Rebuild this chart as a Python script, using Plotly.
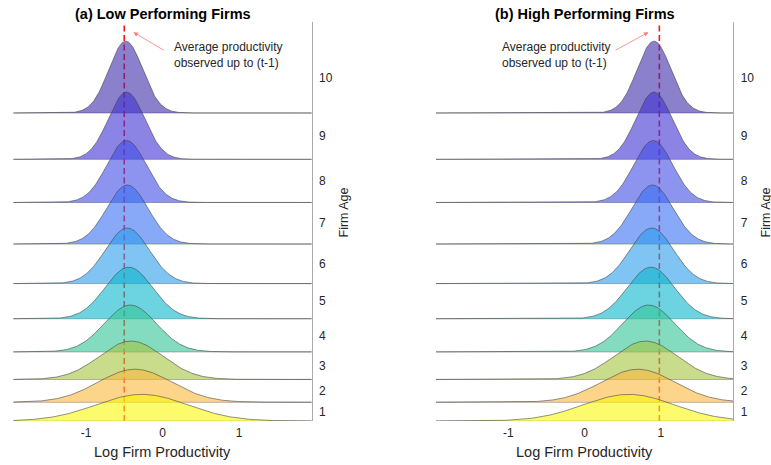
import numpy as np
import plotly.graph_objects as go

# ---- data -------------------------------------------------------------
ages = [1, 2, 3, 4, 5, 6, 7, 8, 9, 10]
age_labels = ["1", "2", "3", "4", "5", "6", "7", "8", "9", "10"]

# normal-density parameters of log productivity by firm age
low_means = [-0.27, -0.36, -0.41, -0.42, -0.44, -0.46, -0.46, -0.47, -0.47, -0.48]
high_means = [0.58, 0.70, 0.80, 0.84, 0.87, 0.88, 0.89, 0.90, 0.91, 0.91]
sds = [0.598, 0.483, 0.415, 0.340, 0.309, 0.287, 0.270, 0.257, 0.237, 0.222]

# vertical offset of each ridge (density units)
baselines = [0.0, 0.47, 1.04, 1.73, 2.56, 3.44, 4.43, 5.47, 6.55, 7.71]

# average productivity observed up to (t-1)
low_avg = -0.50
high_avg = 0.98

x_ticks = [-1, 0, 1]
x_tick_labels = ["-1", "0", "1"]

fill_colors = [
    "rgba(250,248,10,0.6)",
    "rgba(252,185,60,0.6)",
    "rgba(163,197,63,0.6)",
    "rgba(50,197,150,0.6)",
    "rgba(10,183,203,0.6)",
    "rgba(43,157,237,0.6)",
    "rgba(57,110,243,0.6)",
    "rgba(63,77,230,0.6)",
    "rgba(63,50,210,0.6)",
    "rgba(60,43,170,0.6)",
]

# ---- layout constants ---------------------------------------------------
W, H = 771, 465
XR = [-1.95, 1.95]
YR = [0, 10]
FONT = "Liberation Sans, Arial, Helvetica, sans-serif"
TXT = "#262626"
panels = [
    dict(means=low_means, avg=low_avg, title="<b>(a) Low Performing Firms</b>",
         xd=[13.3 / W, 311.7 / W], xa="x", ya="y"),
    dict(means=high_means, avg=high_avg, title="<b>(b) High Performing Firms</b>",
         xd=[436.0 / W, 733.3 / W], xa="x2", ya="y2"),
]
ydom = [1 - 421.0 / H, 1 - 21.5 / H]

grid = np.linspace(XR[0], XR[1], 500)


def pdf(x, m, s):
    return np.exp(-0.5 * ((x - m) / s) ** 2) / (s * np.sqrt(2 * np.pi))


fig = go.Figure()
shapes = []
annotations = []

# y tick positions: midway between successive ridge baselines
tickvals = [(baselines[i] + baselines[i + 1]) / 2 for i in range(len(baselines) - 1)]
tickvals.append(baselines[-1] + 0.88)

for p in panels:
    xa, ya = p["xa"], p["ya"]
    # dashed reference line (under the ridges)
    fig.add_trace(go.Scatter(
        x=[p["avg"], p["avg"]], y=[YR[0], YR[1] - 0.1], mode="lines",
        xaxis=xa, yaxis=ya,
        line=dict(color="rgb(255,20,20)", width=1.6, dash="6px,3.5px"),
        hoverinfo="skip", showlegend=False))
    # ridges drawn from the oldest cohort (top) down to age 1
    for i in reversed(range(len(ages))):
        b = baselines[i]
        dens = pdf(grid, p["means"][i], sds[i])
        fig.add_trace(go.Scatter(
            x=np.concatenate([grid, grid[::-1]]),
            y=np.concatenate([b + dens, np.full_like(grid, b)]),
            mode="lines", fill="toself", fillcolor=fill_colors[i],
            line=dict(width=0), xaxis=xa, yaxis=ya,
            hoverinfo="skip", showlegend=False))
        fig.add_trace(go.Scatter(
            x=grid, y=b + dens, mode="lines", xaxis=xa, yaxis=ya,
            line=dict(color="rgba(70,70,70,0.85)", width=0.7),
            name=f"Age {ages[i]}", showlegend=False))
    for b in baselines:
        shapes.append(dict(type="line", xref=f"{xa} domain", yref=ya,
                           x0=0, x1=1, y0=b, y1=b, layer="below",
                           line=dict(color="#aaaaaa", width=1)))
    xc = (p["xd"][0] + p["xd"][1]) / 2
    annotations.append(dict(text=p["title"], xref="paper", yref="paper",
                            x=xc, y=1 - 13.5 / H, showarrow=False,
                            xanchor="center", yanchor="middle",
                            font=dict(size=14.5, color="#000000", family=FONT)))
    annotations.append(dict(text="Log Firm Productivity", xref="paper", yref="paper",
                            x=xc, y=1 - 451.5 / H, showarrow=False,
                            xanchor="center", yanchor="middle",
                            font=dict(size=14.5, color=TXT, family=FONT)))

# callouts pointing at the dashed reference lines
callouts = [
    dict(xa="x", ya="y", tx=0.12, head=(-0.38, 9.73), tail=(0.035, 9.26)),
    dict(xa="x2", ya="y2", tx=-1.115, head=(0.836, 9.73), tail=(0.385, 9.26)),
]
for c in callouts:
    annotations.append(dict(text="Average productivity<br>observed up to (t-1)",
                            xref=c["xa"], yref=c["ya"], x=c["tx"], y=9.15,
                            showarrow=False, xanchor="left", yanchor="middle",
                            align="left",
                            font=dict(size=12, color=TXT, family=FONT)))
    annotations.append(dict(text="", xref=c["xa"], yref=c["ya"],
                            x=c["head"][0], y=c["head"][1],
                            axref=c["xa"], ayref=c["ya"],
                            ax=c["tail"][0], ay=c["tail"][1],
                            showarrow=True, arrowhead=2, arrowsize=1.1,
                            arrowwidth=0.8, arrowcolor="rgb(255,120,120)",
                            standoff=0, startstandoff=0))

for xpix in (343.5, 765.5):
    annotations.append(dict(text="Firm Age", xref="paper", yref="paper",
                            x=xpix / W, y=1 - 213 / H, textangle=-90,
                            showarrow=False, xanchor="center", yanchor="middle",
                            font=dict(size=12.5, color=TXT, family=FONT)))

axis_common_x = dict(range=XR, tickvals=x_ticks, ticktext=x_tick_labels,
                     showgrid=False, zeroline=False, showline=False, ticks="",
                     tickfont=dict(size=12, color=TXT, family=FONT),
                     ticklabelstandoff=3)
axis_common_y = dict(range=YR, domain=ydom, side="right", tickvals=tickvals,
                     ticktext=age_labels, showgrid=False, zeroline=False,
                     showline=True, linecolor="#aaaaaa", linewidth=1, ticks="",
                     tickfont=dict(size=12, color=TXT, family=FONT),
                     ticklabelstandoff=4)

fig.update_layout(
    width=W, height=H, margin=dict(l=0, r=0, t=0, b=0),
    paper_bgcolor="white", plot_bgcolor="white",
    font=dict(family=FONT, color=TXT),
    xaxis=dict(domain=panels[0]["xd"], anchor="y", **axis_common_x),
    xaxis2=dict(domain=panels[1]["xd"], anchor="y2", **axis_common_x),
    yaxis=dict(anchor="x", **axis_common_y),
    yaxis2=dict(anchor="x2", **axis_common_y),
    shapes=shapes, annotations=annotations,
)

fig.write_html("out.html")
